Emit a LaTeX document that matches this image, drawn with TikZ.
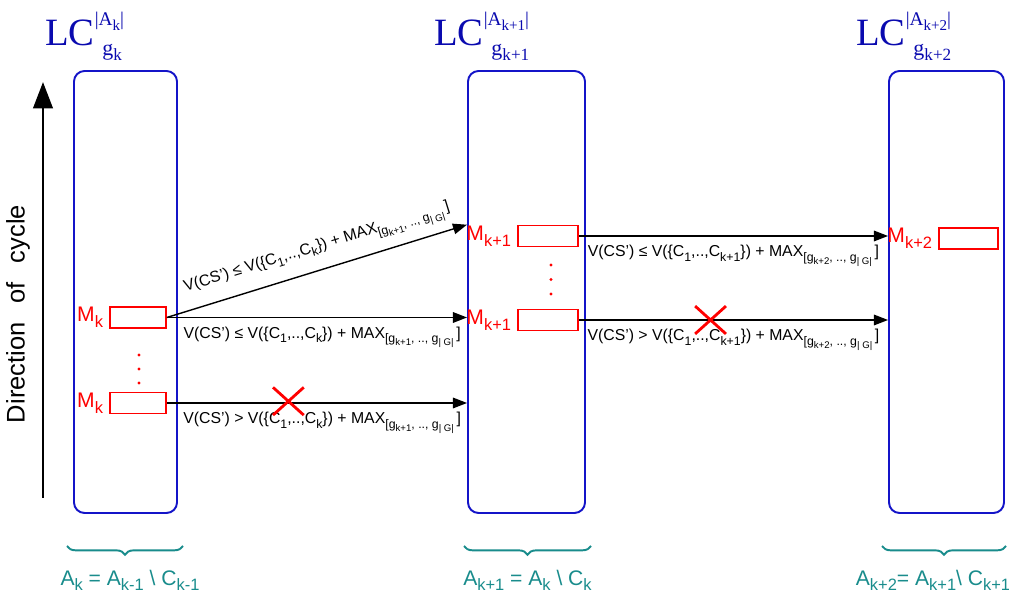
\documentclass[tikz,border=0pt]{standalone}
\usepackage{fontspec}
\setmainfont{Liberation Sans}
\newfontfamily\titlefont{Liberation Serif}
\usepackage{graphicx}
\usetikzlibrary{positioning, arrows.meta, shapes.misc, decorations.pathreplacing}

\definecolor{azulcaja}{RGB}{20,20,200}
\definecolor{azultitulo}{RGB}{10,10,175}
\definecolor{verdellave}{RGB}{25,140,140}

% subindices de texto
\newcommand\lowtxt[1]{\raisebox{-0.5ex}{\scalebox{0.78}{#1}}}
% titulo LC con |A| arriba y g abajo
\newcommand\lctitle[1]{{\titlefont\fontsize{22}{24}\selectfont LC\rlap{\raisebox{1.15ex}{\fontsize{11}{11}\selectfont|A\lowtxt{#1}|}}\raisebox{-0.55ex}{\hspace{0.2em}\fontsize{12.5}{13}\selectfont g\lowtxt{#1}}}}
% condicion sobre V(CS')
\newcommand\condcs[3]{V(CS') #1 V(\{C\lowtxt{1},..,C\lowtxt{#2}\}) + MAX\lowtxt{[g\lowtxt{#3}, .., g\lowtxt{| G|}}\,]}

\begin{document}
\begin{tikzpicture}[
    caja/.style={
        rectangle,
        rounded corners=6pt,
        draw=azulcaja,
        line width=1.1pt,
        minimum height=8.84cm,
    },
    msj/.style={rectangle, draw=red, line width=0.9pt, inner sep=0pt,
        minimum width=1.12cm, minimum height=0.42cm},
    etiq/.style={text=red, font=\fontsize{12}{14}\selectfont},
    titulo/.style={text=azultitulo, anchor=base west, inner sep=0pt},
    cond/.style={font=\fontsize{9}{10}\selectfont, inner sep=2pt},
    arr/.style={-{Triangle[length=8pt, width=6pt]}, line width=0.8pt},
    cruz/.style={cross out, draw=red, line width=1.6pt, inner sep=0pt,
        minimum width=0.56cm, minimum height=0.5cm},
    llave/.style={decorate, decoration={brace, mirror, amplitude=5pt},
        draw=verdellave, line width=1.1pt},
    conjunto/.style={text=verdellave, font=\fontsize{12}{14}\selectfont}
]
\useasboundingbox (0,0) rectangle (20.18,11.9);

% Cajas
\node[caja, minimum width=2.06cm] (lc1) at (2.51,6.06) {};
\node[caja, minimum width=2.34cm] (lc2) at (10.53,6.06) {};
\node[caja, minimum width=2.30cm] (lc3) at (18.93,6.06) {};

% Titulos
\node[titulo] (t1) at (0.90,10.98) {\lctitle{k}};
\node[titulo] (t2) at (8.68,10.98) {\lctitle{k+1}};
\node[titulo] (t3) at (17.12,10.98) {\lctitle{k+2}};

% Direccion del ciclo
\coordinate (ciclo_ini) at (0.86,1.94);
\coordinate (ciclo_fin) at (0.86,10.26);
\draw[-{Triangle[length=15pt, width=11pt]}, line width=1.7pt] (ciclo_ini) -- (ciclo_fin);
\node[rotate=90, font=\fontsize{14.5}{16}\selectfont] (ciclo) at (0.36,5.62)
    {Direction\hspace{0.75em}of\hspace{0.75em}cycle};

% Mensajes
\node[msj, label={[etiq]left:M\lowtxt{k}}] (m1a) at (2.76,5.55) {};
\node[msj, label={[etiq]left:M\lowtxt{k}}] (m1b) at (2.76,3.84) {};
\node[msj, minimum width=1.2cm, label={[etiq]left:M\lowtxt{k+1}}] (m2a) at (10.96,7.18) {};
\node[msj, minimum width=1.2cm, label={[etiq]left:M\lowtxt{k+1}}] (m2b) at (10.96,5.50) {};
\node[msj, minimum width=1.18cm, label={[etiq]left:M\lowtxt{k+2}}] (m3) at (19.37,7.13) {};

% puntos
\foreach \y in {4.80,4.52,4.24} \fill[red] (2.78,\y) circle (0.9pt);
\foreach \y in {6.60,6.31,6.02} \fill[red] (11.02,\y) circle (0.9pt);

% Conexiones
\draw[arr] (m1a.east) -- node[cond, sloped, above=3pt, xshift=4pt] {\condcs{≤}{k}{k+1}} (lc2.west |- m2a.north);
\draw[arr] (m1a.east) -- node[cond, below=3pt, xshift=3pt] {\condcs{≤}{k}{k+1}} (m1a.east -| lc2.west);
\draw[arr] (m1b.east) -- node[cond, below=3pt, xshift=3pt] {\condcs{>}{k}{k+1}}
    node[cruz, pos=0.405, yshift=1pt] (cruz1) {} (m1b.east -| lc2.west);
\draw[arr] (m2a.east) -- node[cond, below=3pt] {\condcs{≤}{k+1}{k+2}} (m2a.east -| lc3.west);
\draw[arr] (m2b.east) -- node[cond, below=3pt] {\condcs{>}{k+1}{k+2}}
    node[cruz, pos=0.426] (cruz2) {} (m2b.east -| lc3.west);

% Llaves
\draw[llave] ([shift={(-0.12,-0.64)}]lc1.south west) -- node[conjunto, below=0.34cm, xshift=0.1cm] (a1)
    {A\lowtxt{k} = A\lowtxt{k-1} \textbackslash{} C\lowtxt{k-1}} ([shift={(0.1,-0.64)}]lc1.south east);
\draw[llave] ([shift={(-0.06,-0.64)}]lc2.south west) -- node[conjunto, below=0.34cm] (a2)
    {A\lowtxt{k+1} = A\lowtxt{k} \textbackslash{} C\lowtxt{k}} ([shift={(0.1,-0.64)}]lc2.south east);
\draw[llave] ([shift={(-0.12,-0.64)}]lc3.south west) -- node[conjunto, below=0.34cm, xshift=-0.22cm] (a3)
    {A\lowtxt{k+2}= A\lowtxt{k+1}\textbackslash{} C\lowtxt{k+1}} ([shift={(0.02,-0.64)}]lc3.south east);

\end{tikzpicture}
\end{document}
